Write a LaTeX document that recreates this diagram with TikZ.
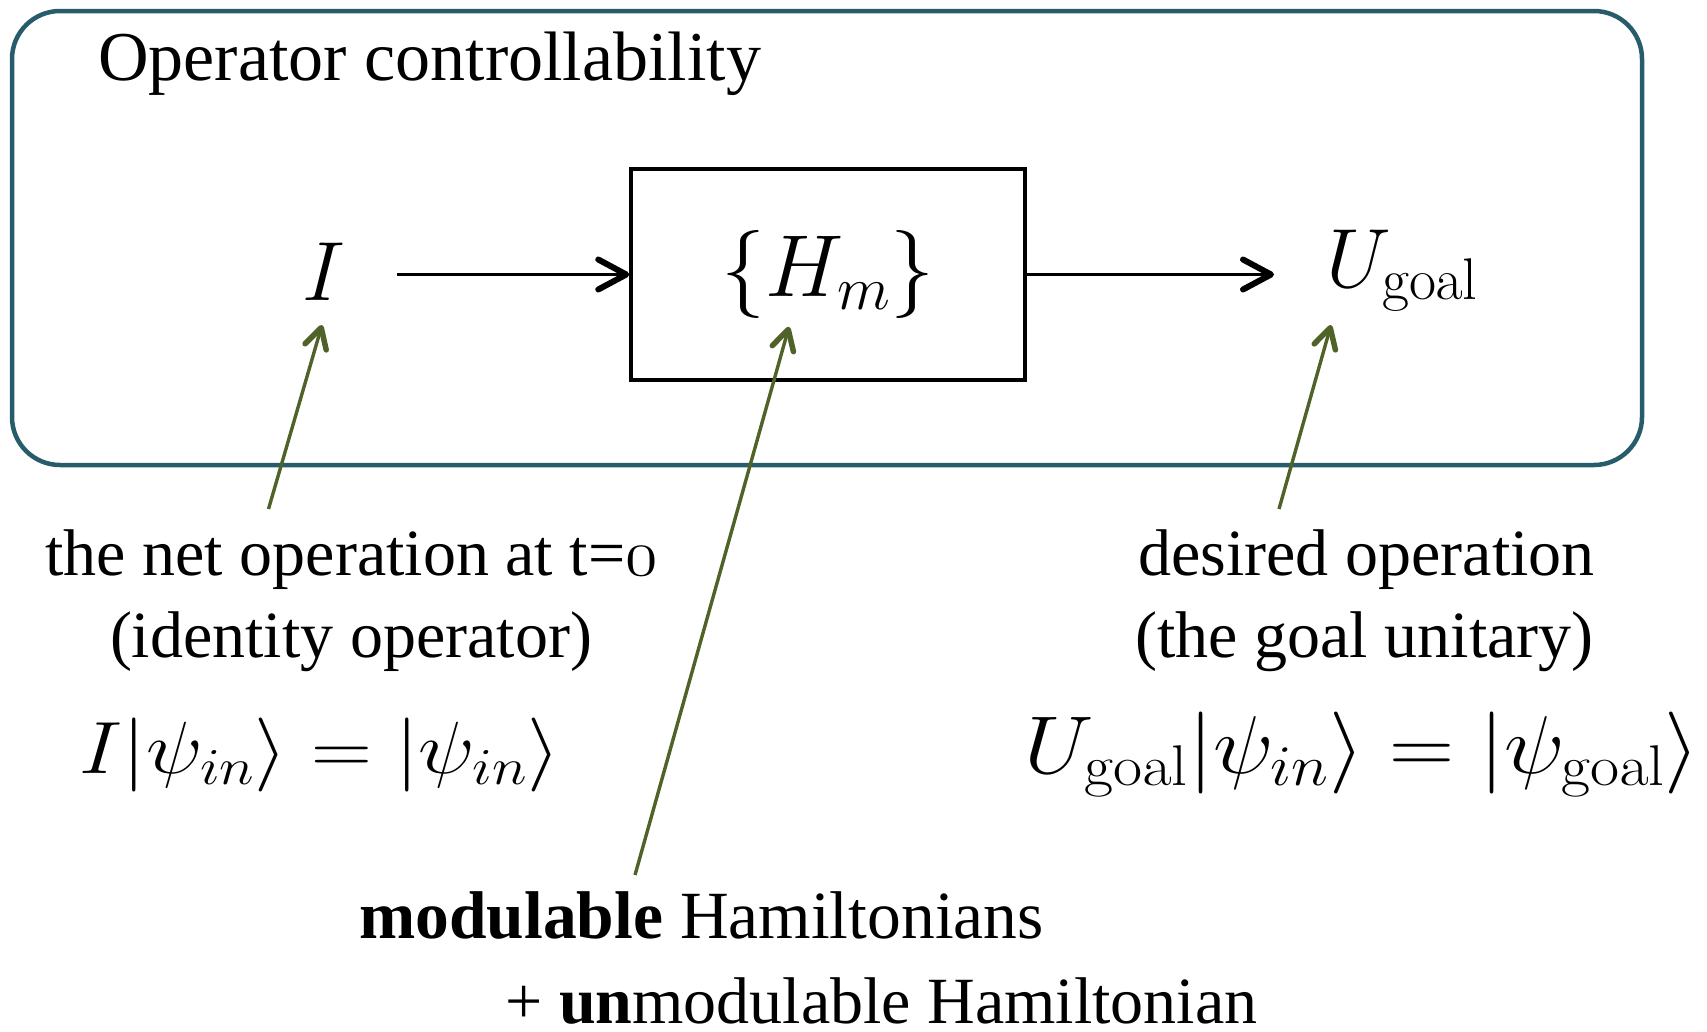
\RequirePackage{fix-cm}
\documentclass[tikz,border=0pt]{standalone}
\usepackage[no-math]{fontspec}
\setmainfont{Liberation Serif}
\usepackage{graphicx}
\usetikzlibrary{arrows.meta,calc}
\definecolor{teal1}{HTML}{275C6B}
\definecolor{olive1}{HTML}{4F6228}
\begin{document}
\begin{tikzpicture}[x=1pt,y=-1pt,
  lbl/.style={font=\fontsize{66}{79}\selectfont, inner sep=0pt, anchor=base},
  mth/.style={font=\fontsize{84}{100}\selectfont, inner sep=0pt},
  blk/.style={line width=3.2pt, -{Straight Barb[length=28pt,width=30pt,line width=6pt,round]}},
  grn/.style={olive1, line width=3.4pt, -{Straight Barb[length=20pt,width=22pt,line width=5.5pt,round]}}]
\useasboundingbox (0,0) rectangle (1707,1031);
\draw[teal1, line width=4.5pt, rounded corners=48pt] (12,11) rectangle (1642,465);
\node[anchor=base west, font=\fontsize{70}{84}\selectfont, inner sep=0pt] (title) at (98,80) {Operator controllability};
% main row
\node[draw, line width=3.5pt, minimum width=394pt, minimum height=211pt, inner sep=0pt, font=\fontsize{88}{100}\selectfont] (box) at (828,274.5) {$\{H_m\}$};
\node[mth, anchor=base] (I) at (324,300) {$I$};
\node[mth, anchor=base west] (Ug) at (1326,287) {$U_{\mathrm{goal}}$};
\draw[blk] ($(I.east |- box.west)+(51,0)$) -- (box.west);
\draw[blk] (box.east) -- ($(box.east -| Ug.west)+(-52,0)$);
% labels
\node[lbl] (lab1a) at (351.5,575) {the net operation at t=\(\mathnormal{0}\)};
\node[lbl] (lab1b) at (351,657) {(identity operator)};
\node[anchor=base, font=\fontsize{74}{88}\selectfont, inner sep=0pt] (eq1) at (320,773) {\scalebox{1.14}[1]{$I|\psi_{in}\rangle = |\psi_{in}\rangle$}};
\node[lbl] (lab2a) at (1366.5,575) {desired operation};
\node[lbl] (lab2b) at (1364.5,657) {(the goal unitary)};
\node[anchor=base, font=\fontsize{82}{96}\selectfont, inner sep=0pt] (eq2) at (1362.5,773) {\scalebox{1.1}[1]{$U_{\mathrm{goal}}|\psi_{in}\rangle = |\psi_{\mathrm{goal}}\rangle$}};
\node[lbl, font=\fontsize{67.5}{80}\selectfont] (lab3a) at (701.5,938) {\textbf{modulable} Hamiltonians};
\node[lbl] (lab3b) at (881.5,1023) {+ \textbf{un}modulable Hamiltonian};
% green pointers
\draw[grn] ($(lab1a.base)+(-83,-66)$) -- ($(I.base)+(-2,25)$);
\draw[grn] ($(lab3a.base)+(-66.5,-63)$) -- ($(box.south)+(-39,-55)$);
\draw[grn] ($(lab2a.base)+(-87.5,-66)$) -- ($(Ug.base west)+(5,38)$);
\end{tikzpicture}
\end{document}
